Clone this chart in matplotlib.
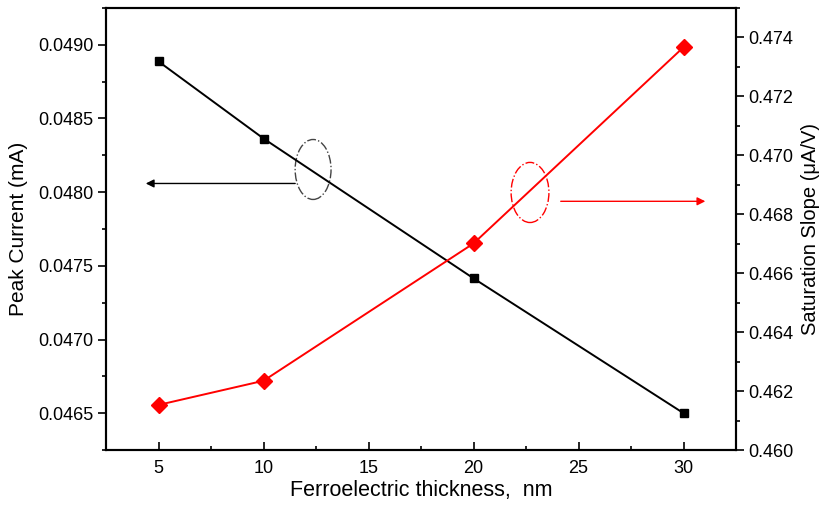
import matplotlib
matplotlib.use("Agg")
import matplotlib.pyplot as plt
from matplotlib.patches import Ellipse
from matplotlib.ticker import MultipleLocator, FormatStrFormatter

plt.rcParams['font.family'] = ['Liberation Sans', 'DejaVu Sans']

# data
thickness = [5, 10, 20, 30]
peak_current = [0.048887, 0.048364, 0.047415, 0.046500]
sat_slope = [0.46153, 0.46235, 0.46701, 0.47367]

fig = plt.figure(figsize=(8.2, 5.09), dpi=100)
ax = fig.add_axes([0.1293, 0.1159, 0.7683, 0.8684])
ax2 = ax.twinx()

ax.plot(thickness, peak_current, color="black", marker="s", markersize=6, linewidth=1.4)
ax2.plot(thickness, sat_slope, color="red", marker="D", markersize=8, linewidth=1.4)

ax.set_xlim(2.5, 32.5)
ax.set_ylim(0.04625, 0.04925)
ax2.set_ylim(0.460, 0.475)

ax.xaxis.set_major_locator(MultipleLocator(5))
ax.xaxis.set_minor_locator(MultipleLocator(2.5))
ax.yaxis.set_major_locator(MultipleLocator(0.0005))
ax.yaxis.set_minor_locator(MultipleLocator(0.00025))
ax.yaxis.set_major_formatter(FormatStrFormatter("%.4f"))
ax2.yaxis.set_major_locator(MultipleLocator(0.002))
ax2.yaxis.set_minor_locator(MultipleLocator(0.001))
ax2.yaxis.set_major_formatter(FormatStrFormatter("%.3f"))

ax.tick_params(axis="x", which="both", direction="in", top=False, labelsize=13, pad=7)
ax.tick_params(axis="x", which="major", length=6, width=1.2)
ax.tick_params(axis="x", which="minor", length=3, width=1.2)
ax.tick_params(axis="y", which="both", direction="out", labelsize=13, width=1.2, pad=3)
ax.tick_params(axis="y", which="major", length=6)
ax.tick_params(axis="y", which="minor", length=3)
ax2.tick_params(axis="y", which="both", direction="out", labelsize=13, width=1.2, pad=3)
ax2.tick_params(axis="y", which="major", length=6)
ax2.tick_params(axis="y", which="minor", length=3)

for a in (ax, ax2):
    for s in a.spines.values():
        s.set_linewidth(1.5)

ax.set_xlabel("Ferroelectric thickness,  nm", fontsize=15.5, labelpad=2)
ax.set_ylabel("Peak Current (mA)", fontsize=15, labelpad=7)
ax2.set_ylabel("Saturation Slope (\u03bcA/V)", fontsize=14.5, labelpad=5)

# annotation ellipses and arrows
ax.add_patch(Ellipse((12.36, 0.048154), 1.71, 0.000407, fill=False,
                     edgecolor="#444444", linestyle="-.", linewidth=1))
ax.annotate("", xy=(4.26, 0.048059), xytext=(11.64, 0.048059),
            arrowprops=dict(arrowstyle="-|>", color="black", lw=1, mutation_scale=12))
ax2.add_patch(Ellipse((22.69, 0.46874), 1.8, 0.00204, fill=False,
                      edgecolor="red", linestyle="-.", linewidth=1))
ax2.annotate("", xy=(31.17, 0.46844), xytext=(24.02, 0.46844),
             arrowprops=dict(arrowstyle="-|>", color="red", lw=1, mutation_scale=12))

fig.savefig("out.png", dpi=100)
